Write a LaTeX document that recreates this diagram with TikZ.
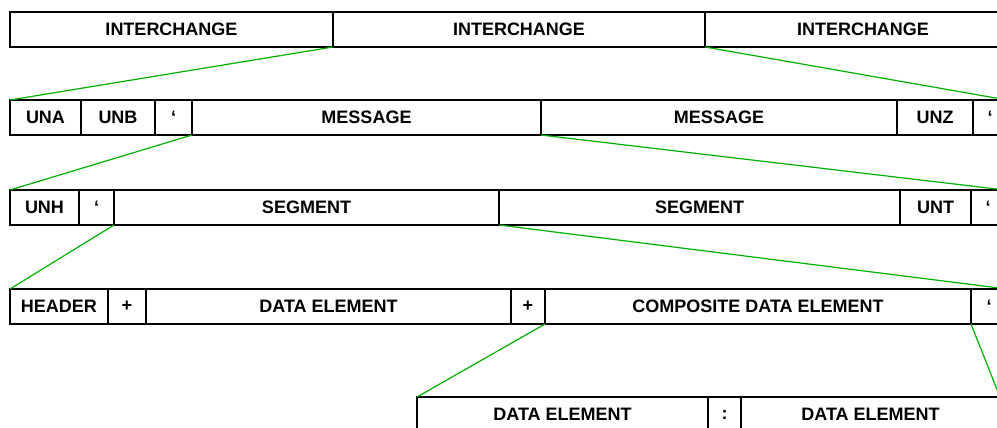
\documentclass[tikz,border=0pt]{standalone}
\usepackage{fontspec}
\setmainfont{Liberation Sans}
\usetikzlibrary{positioning,calc}
\definecolor{zoomgreen}{RGB}{0,176,0}

\begin{document}
\begin{tikzpicture}[x=1pt,y=-1pt,
  cell/.style={draw, line width=1.3pt, minimum height=35pt, inner sep=0pt, outer sep=0pt,
    font=\bfseries\fontsize{18}{20}\selectfont},
  first/.style={cell, anchor=north west},
  zoom/.style={draw=zoomgreen, line width=1.2pt}]
\useasboundingbox (0,0) rectangle (997,428);
\clip (0,0) rectangle (997,428);
% interchanges
\node[first, minimum width=323pt] (ic1) at (10,12) {INTERCHANGE};
\node[cell, minimum width=372pt, right=0pt of ic1] (ic2) {INTERCHANGE};
\node[cell, minimum width=316pt, right=0pt of ic2] (ic3) {INTERCHANGE};
% one interchange
\node[first, minimum width=71pt] (una) at (10,100) {UNA};
\node[cell, minimum width=74pt, right=0pt of una] (unb) {UNB};
\node[cell, minimum width=37pt, right=0pt of unb] (ap1) {‘};
\node[cell, minimum width=349pt, right=0pt of ap1] (msg1) {MESSAGE};
\node[cell, minimum width=356pt, right=0pt of msg1] (msg2) {MESSAGE};
\node[cell, minimum width=76pt, right=0pt of msg2] (unz) {UNZ};
\node[cell, minimum width=34pt, right=0pt of unz] (ap2) {‘};
% one message
\node[first, minimum width=69pt] (unh) at (10,190) {UNH};
\node[cell, minimum width=35pt, right=0pt of unh] (ap3) {‘};
\node[cell, minimum width=385pt, right=0pt of ap3] (seg1) {SEGMENT};
\node[cell, minimum width=401pt, right=0pt of seg1] (seg2) {SEGMENT};
\node[cell, minimum width=71pt, right=0pt of seg2] (unt) {UNT};
\node[cell, minimum width=34pt, right=0pt of unt] (ap4) {‘};
% one segment
\node[first, minimum width=98pt] (hdr) at (10,289) {HEADER};
\node[cell, minimum width=38pt, right=0pt of hdr] (pl1) {+};
\node[cell, minimum width=365pt, right=0pt of pl1] (de1) {DATA ELEMENT};
\node[cell, minimum width=34pt, right=0pt of de1] (pl2) {+};
\node[cell, minimum width=426pt, right=0pt of pl2] (cde) {COMPOSITE DATA ELEMENT};
\node[cell, minimum width=36pt, right=0pt of cde] (ap5) {‘};
% one composite data element
\node[first, minimum width=291pt] (de2) at (417,397) {DATA ELEMENT};
\node[cell, minimum width=33pt, right=0pt of de2] (col) {:};
\node[cell, minimum width=259pt, right=0pt of col] (de3) {DATA ELEMENT};
% zoom lines
\draw[zoom] (ic2.south west) -- (una.north west);
\draw[zoom] (ic3.south west) -- (ap2.north east);
\draw[zoom] (msg1.south west) -- (unh.north west);
\draw[zoom] (msg2.south west) -- (ap4.north east);
\draw[zoom] (seg1.south west) -- (hdr.north west);
\draw[zoom] (seg2.south west) -- (ap5.north east);
\draw[zoom] (cde.south west) -- (de2.north west);
\draw[zoom] (cde.south east) -- (de3.north east);
\end{tikzpicture}
\end{document}
